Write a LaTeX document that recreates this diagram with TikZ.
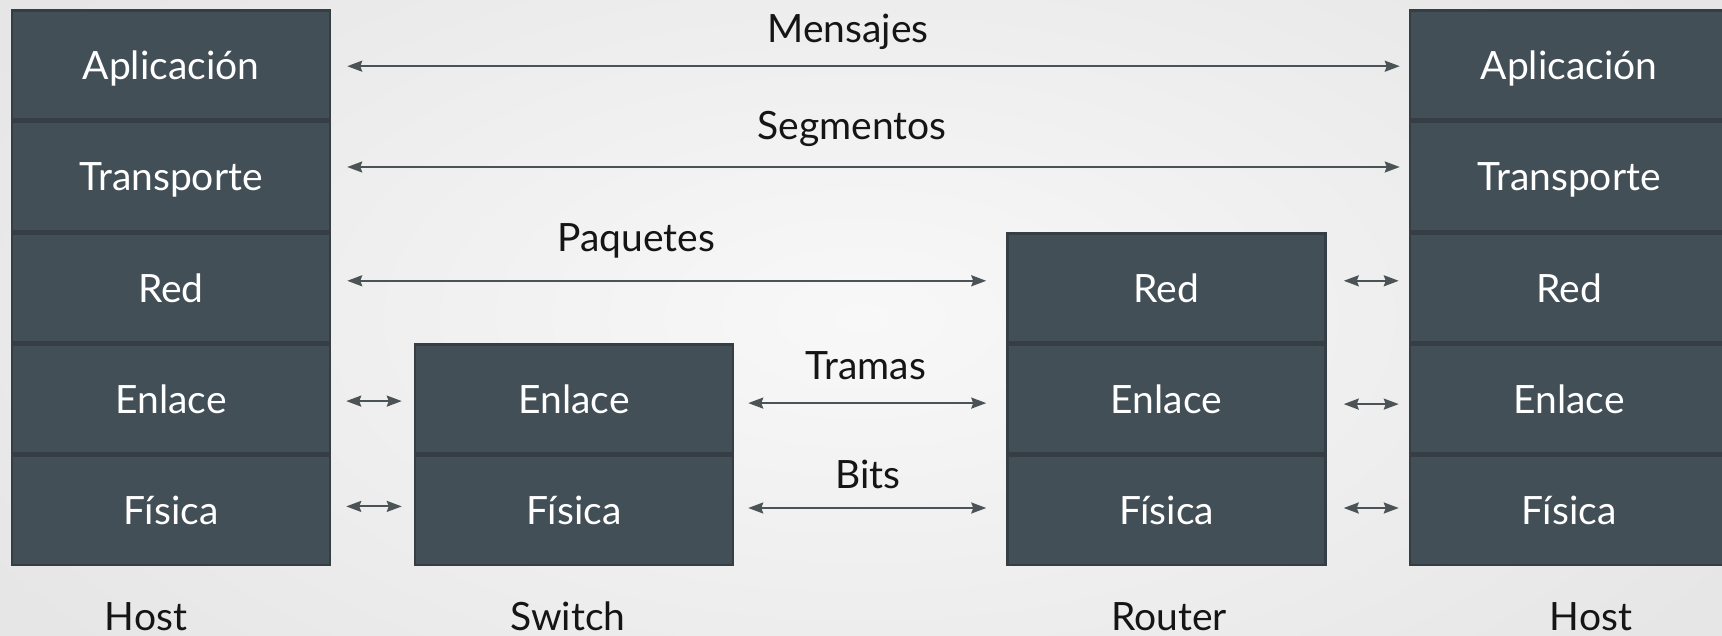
\documentclass[tikz,border=0pt]{standalone}
\usepackage{fontspec}
\setmainfont{Lato}
\usetikzlibrary{arrows.meta,calc}
\definecolor{boxfill}{HTML}{434F56}
\definecolor{boxline}{HTML}{343E44}
\definecolor{arrcol}{HTML}{4B5357}
\definecolor{bgin}{HTML}{F8F8F8}
\definecolor{bgout}{HTML}{E6E6E6}
\definecolor{lblcol}{HTML}{151515}
\tikzset{
  cell/.style={draw=boxline, fill=boxfill, line width=2.5pt, minimum width=318pt,
    minimum height=109pt, inner sep=0pt, text=white,
    font=\fontsize{39}{46}\selectfont, text height=29pt, text depth=0pt},
  lbl/.style={text=lblcol, font=\fontsize{39}{46}\selectfont, inner sep=0pt, anchor=base},
  arr/.style={draw=arrcol, line width=2pt,
    {Stealth[length=15pt,width=11pt,inset=2pt]}-{Stealth[length=15pt,width=11pt,inset=2pt]}}
}
\begin{document}
\begin{tikzpicture}[x=1pt,y=-1pt]
\useasboundingbox (0,0) rectangle (1722,636);
\clip (0,0) rectangle (1722,636);
\shade[inner color=bgin, outer color=bgout] (-150,-200) rectangle (1872,836);
% left host
\node[cell] (h1a) at (171,65.2) {Aplicación};
\node[cell] (h1t) at (171,176.5) {Transporte};
\node[cell] (h1r) at (171,287.8) {Red};
\node[cell] (h1e) at (171,399.1) {Enlace};
\node[cell] (h1f) at (171,510.4) {Física};
% switch
\node[cell] (se) at (574,399.1) {Enlace};
\node[cell] (sf) at (574,510.4) {Física};
% router
\node[cell] (rr) at (1166.5,287.8) {Red};
\node[cell] (re) at (1166.5,399.1) {Enlace};
\node[cell] (rf) at (1166.5,510.4) {Física};
% right host
\node[cell] (h2a) at (1569,65.2) {Aplicación};
\node[cell] (h2t) at (1569,176.5) {Transporte};
\node[cell] (h2r) at (1569,287.8) {Red};
\node[cell] (h2e) at (1569,399.1) {Enlace};
\node[cell] (h2f) at (1569,510.4) {Física};
% long arrows
\draw[arr] ($(h1a.east)+(16,1)$) -- ($(h2a.west)+(-9,1)$);
\draw[arr] ($(h1t.east)+(16,-9.5)$) -- ($(h2t.west)+(-9,-9.5)$);
\draw[arr] ($(h1r.east)+(16,-7)$) -- ($(rr.west)+(-20,-7)$);
\draw[arr] ($(se.east)+(14,4)$) -- ($(re.west)+(-20,4)$);
\draw[arr] ($(sf.east)+(14,-2.4)$) -- ($(rf.west)+(-20,-2.4)$);
% short arrows
\draw[arr] ($(h1e.east)+(15,2)$) -- ($(se.west)+(-12,2)$);
\draw[arr] ($(h1f.east)+(15,-4)$) -- ($(sf.west)+(-12,-4)$);
\draw[arr] ($(rr.east)+(17,-7)$) -- ($(h2r.west)+(-10,-7)$);
\draw[arr] ($(re.east)+(17,5)$) -- ($(h2e.west)+(-10,5)$);
\draw[arr] ($(rf.east)+(17,-2.4)$) -- ($(h2f.west)+(-10,-2.4)$);
% labels
\node[lbl] (lmen) at (848,43) {Mensajes};
\node[lbl] (lseg) at (852,140) {Segmentos};
\node[lbl] (lpaq) at (636.5,252) {Paquetes};
\node[lbl] (ltra) at (866,379) {Tramas};
\node[lbl] (lbit) at (868,488) {Bits};
\node[lbl, text depth=0pt] (lh1) at (146,630) {Host};
\node[lbl, text depth=0pt] (lsw) at (568,630) {Switch};
\node[lbl, text depth=0pt] (lro) at (1169,630) {Router};
\node[lbl, text depth=0pt] (lh2) at (1591,630) {Host};
\end{tikzpicture}
\end{document}
